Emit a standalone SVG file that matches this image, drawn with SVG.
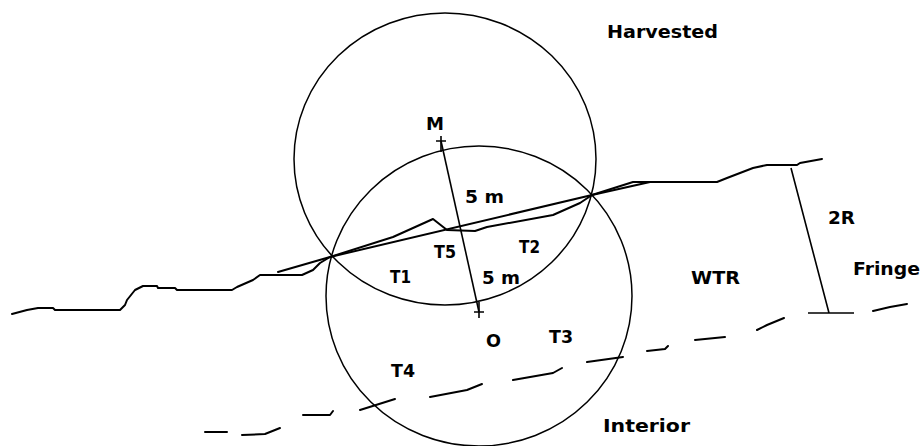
<svg xmlns="http://www.w3.org/2000/svg" width="923" height="446" viewBox="0 0 923 446">
<style>
.c{fill:none;stroke:#000;stroke-width:1.5}
.g{fill:none;stroke:#000;stroke-width:2;stroke-linejoin:round;stroke-linecap:round}
.l{fill:none;stroke:#000;stroke-width:1.6}
.t{font-family:"DejaVu Sans",sans-serif;font-weight:bold;font-size:18px;fill:#000}
</style>
<rect width="923" height="446" fill="#fff"/>
<g id="circles">
<ellipse id="plotM" class="c" cx="445" cy="159" rx="151" ry="146"/>
<ellipse id="plotO" class="c" cx="479" cy="296" rx="153" ry="150"/>
</g>
<g id="connectors">
<path id="edge" class="g" d="M12,314 L27,310 L38,308 L53,308 L55,310 L120,310 L125,305 L127,300 L135,290 L143,286 L157,286 L158,288 L175,288 L177,290 L232,290 L237,287 L253,280 L260,275 L302,275 L313,270 L320,263 L330,257 L393,237 L433,219 L447,230 L475,231 L487,227 L553,215 L580,203 L592,195 L633,182 L717,182 L727,178 L753,168 L767,165 L797,165 L800,163 L822,159"/>
<path id="chord" class="g" d="M278,272 L330,257 L592,195 L650,182"/>
<path id="mo" class="l" d="M441,141 L479,312"/>
<path id="crossM" class="l" d="M441,136 V152 M436,141 H446"/>
<path id="crossO" class="l" d="M479,302 V318 M474,312 H484"/>
<path id="dim2R" class="l" d="M791,168 L829,313 M808,313 H854"/>
<path id="interior" class="g" d="M205,432 L227,432 M242,435 L265,434 L280,428 M303,415 L330,415 L333,411 M360,410 L395,399 M430,397 L467,390 L482,384 M513,380 L553,373 L562,368 M587,362 L623,357 M647,351 L665,349 L668,346 M695,340 L725,337 M757,330 L767,325 L784,318 M873,311 L890,307 L907,304"/>
</g>
<g id="labels">
<text class="t" x="607" y="38" textLength="111" lengthAdjust="spacingAndGlyphs">Harvested</text>
<text class="t" x="426" y="130" textLength="18" lengthAdjust="spacingAndGlyphs">M</text>
<text class="t" x="465" y="203" textLength="39" lengthAdjust="spacingAndGlyphs">5 m</text>
<text class="t" x="434" y="258" textLength="22" lengthAdjust="spacingAndGlyphs">T5</text>
<text class="t" x="519" y="253" textLength="21" lengthAdjust="spacingAndGlyphs">T2</text>
<text class="t" x="390" y="283" textLength="21" lengthAdjust="spacingAndGlyphs">T1</text>
<text class="t" x="482" y="284" textLength="38" lengthAdjust="spacingAndGlyphs">5 m</text>
<text class="t" x="691" y="284" textLength="49" lengthAdjust="spacingAndGlyphs">WTR</text>
<text class="t" x="828" y="224" textLength="27" lengthAdjust="spacingAndGlyphs">2R</text>
<text class="t" x="853" y="275" textLength="67" lengthAdjust="spacingAndGlyphs">Fringe</text>
<text class="t" x="486" y="347" textLength="15" lengthAdjust="spacingAndGlyphs">O</text>
<text class="t" x="549" y="343" textLength="24" lengthAdjust="spacingAndGlyphs">T3</text>
<text class="t" x="391" y="377" textLength="24" lengthAdjust="spacingAndGlyphs">T4</text>
<text class="t" x="603" y="432" textLength="87" lengthAdjust="spacingAndGlyphs">Interior</text>
</g>
</svg>
